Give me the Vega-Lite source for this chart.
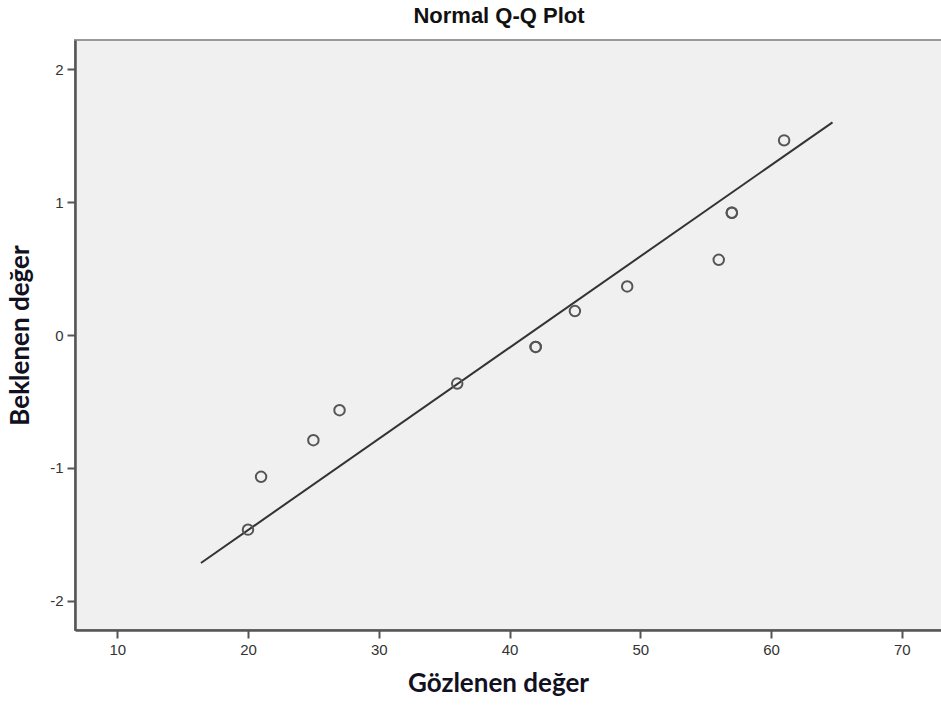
{
  "$schema": "https://vega.github.io/schema/vega-lite/v6.json",
  "width": 868,
  "height": 590,
  "autosize": {"type": "none"},
  "padding": {"left": 75, "top": 40, "right": 0, "bottom": 79},
  "background": "white",
  "title": {
    "text": "Normal Q-Q Plot",
    "font": "Liberation Sans",
    "fontSize": 22,
    "fontWeight": "bold",
    "color": "#111111",
    "anchor": "middle",
    "frame": "group",
    "dx": -10,
    "offset": 12
  },
  "config": {
    "view": {"fill": "#f0f0f0", "stroke": "#999999", "strokeWidth": 2},
    "axis": {
      "grid": false,
      "domainColor": "#555555",
      "domainWidth": 2.5,
      "tickColor": "#555555",
      "tickWidth": 2,
      "tickSize": 8,
      "labelFont": "Liberation Sans",
      "labelFontSize": 15,
      "labelColor": "#333333",
      "labelPadding": 4,
      "labelExpr": "toString(datum.value)",
      "titleFont": "Lato",
      "titleFontSize": 26,
      "titleFontWeight": "bold",
      "titleColor": "#111122"
    }
  },
  "datasets": {
    "points": [
      {"observed": 20, "expected": -1.466},
      {"observed": 21, "expected": -1.068},
      {"observed": 25, "expected": -0.792},
      {"observed": 27, "expected": -0.566},
      {"observed": 36, "expected": -0.366},
      {"observed": 42, "expected": -0.090},
      {"observed": 42, "expected": -0.090},
      {"observed": 45, "expected": 0.180},
      {"observed": 49, "expected": 0.366},
      {"observed": 56, "expected": 0.566},
      {"observed": 57, "expected": 0.921},
      {"observed": 57, "expected": 0.921},
      {"observed": 61, "expected": 1.466}
    ],
    "line": [
      {"observed": 16.4, "expected": -1.717},
      {"observed": 64.7, "expected": 1.602}
    ]
  },
  "layer": [
    {
      "data": {"name": "line"},
      "mark": {"type": "line", "color": "#333333", "strokeWidth": 2},
      "encoding": {
        "x": {"field": "observed", "type": "quantitative"},
        "y": {"field": "expected", "type": "quantitative"}
      }
    },
    {
      "data": {"name": "points"},
      "mark": {"type": "point", "shape": "circle", "filled": false, "stroke": "#555555", "strokeWidth": 2, "size": 110, "opacity": 1},
      "encoding": {
        "x": {
          "field": "observed",
          "type": "quantitative",
          "scale": {"domain": [6.77, 73.15], "nice": false, "zero": false},
          "axis": {"title": "Gözlenen değer", "values": [10, 20, 30, 40, 50, 60, 70], "titlePadding": 13, "titleX": 423}
        },
        "y": {
          "field": "expected",
          "type": "quantitative",
          "scale": {"domain": [-2.222, 2.222], "nice": false, "zero": false},
          "axis": {"title": "Beklenen değer", "values": [-2, -1, 0, 1, 2], "titlePadding": 16}
        }
      }
    }
  ]
}
